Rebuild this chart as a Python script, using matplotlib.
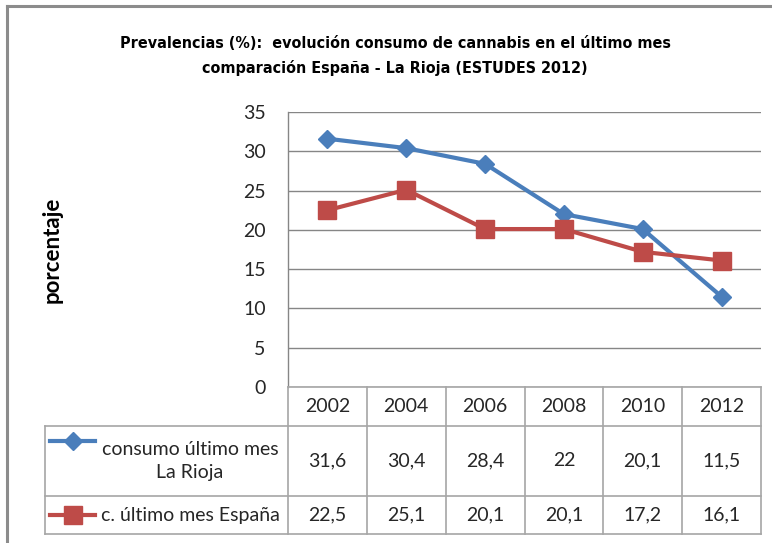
import matplotlib
matplotlib.use("Agg")
from matplotlib import pyplot as plt
from matplotlib.lines import Line2D
from matplotlib import font_manager

title = "Prevalencias (%):  evolución consumo de cannabis en el último mes\ncomparación España - La Rioja (ESTUDES 2012)"
years = ["2002", "2004", "2006", "2008", "2010", "2012"]
rioja = [31.6, 30.4, 28.4, 22.0, 20.1, 11.5]
espana = [22.5, 25.1, 20.1, 20.1, 17.2, 16.1]
rioja_label = "consumo último mes\nLa Rioja"
espana_label = "c. último mes España"
yticks = [0, 5, 10, 15, 20, 25, 30, 35]

BLUE = "#4A7EBB"
RED = "#BE4B48"
GRID = "#868686"
TABLE = "#A6A6A6"
TXT = "#262626"
BODY = ["Lato", "DejaVu Sans"]

W, H = 772, 543


def fx(px):
    return px / W


def fy(py):
    return 1 - py / H


def fmt(v):
    s = f"{v:.1f}".replace(".", ",")
    return s[:-2] if s.endswith(",0") else s


# pick a narrow bold face for the title if one is around
cond = font_manager.FontProperties(family="DejaVu Sans", stretch="condensed", weight="bold")
if "Condensed" in font_manager.findfont(cond, fallback_to_default=True):
    title_font = dict(family=["DejaVu Sans"], fontstretch="condensed")
else:
    title_font = dict(family=["Roboto", "DejaVu Sans"])

fig = plt.figure(figsize=(W / 100, H / 100), dpi=100, facecolor="white")

# outer chart border (left and top visible)
fig.add_artist(Line2D([fx(7), fx(7)], [fy(6), 0], transform=fig.transFigure, color="#8C8C8C", lw=2.2))
fig.add_artist(Line2D([fx(7), 1], [fy(6), fy(6)], transform=fig.transFigure, color="#8C8C8C", lw=2.2))

ttl = fig.text(fx(395), fy(56), title, ha="center", va="center", fontsize=14,
               fontweight="bold", color="black", linespacing=1.75, **title_font)
# shrink the title until its first line is about as wide as in the chart
renderer = fig.canvas.get_renderer()
line1 = fig.text(0, 0, title.split("\n")[0], fontsize=14, fontweight="bold", **title_font)
w = line1.get_window_extent(renderer).width
line1.remove()
ttl.set_fontsize(14 * 552 / w)

# plot area
x0, x1, ytop, ybot = 288, 761, 112, 387
ax = fig.add_axes([fx(x0), fy(ybot), fx(x1) - fx(x0), fy(ytop) - fy(ybot)])
xs = list(range(len(years)))
ax.plot(xs, rioja, color=BLUE, lw=3, marker="D", ms=9.5, zorder=3)
ax.plot(xs, espana, color=RED, lw=3, marker="s", ms=12.5, zorder=3)
ax.set_xlim(-0.5, len(years) - 0.5)
ax.set_ylim(0, 35)
ax.set_yticks(yticks)
ax.set_yticklabels([str(t) for t in yticks], family=BODY, fontsize=14, color=TXT)
ax.set_xticks([])
ax.tick_params(axis="y", length=0, pad=16)
for s in ["top", "right", "bottom"]:
    ax.spines[s].set_visible(False)
ax.spines["left"].set_color(GRID)
ax.spines["left"].set_linewidth(1)
ax.grid(axis="y", color=GRID, lw=1)
ax.set_axisbelow(True)
ax.text(fx(52), fy(250), "porcentaje", transform=fig.transFigure, rotation=90,
        ha="center", va="center", fontsize=16, fontweight="bold", family=BODY, color="black")

# data table below
tl = 45
colw = (x1 - x0) / len(years)
tax = fig.add_axes([fx(tl), fy(534), fx(x1) - fx(tl), fy(387) - fy(534)])
tax.set_xlim(-0.5 - (x0 - tl) / colw, len(years) - 0.5)
tax.set_ylim(147, 0)
tax.axis("off")
left = -0.5 - (x0 - tl) / colw
rows = [0, 39, 109, 147]
kw = dict(color=TABLE, lw=1.2, clip_on=False)
# header row lines (year columns only)
tax.plot([-0.5, len(years) - 0.5], [0, 0], **kw)
for r in rows[1:]:
    tax.plot([left, len(years) - 0.5], [r, r], **kw)
tax.plot([left, left], [rows[1], rows[3]], **kw)
for i in range(len(years) + 1):
    tax.plot([i - 0.5, i - 0.5], [0, rows[3]], **kw)

for i, yr in enumerate(years):
    tax.text(i, (rows[0] + rows[1]) / 2, yr, ha="center", va="center",
             fontsize=14, family=BODY, color=TXT)
    tax.text(i, (rows[1] + rows[2]) / 2, fmt(rioja[i]), ha="center", va="center",
             fontsize=14, family=BODY, color=TXT)
    tax.text(i, (rows[2] + rows[3]) / 2, fmt(espana[i]), ha="center", va="center",
             fontsize=14, family=BODY, color=TXT)

# legend keys in the label column
key0 = left + 5 / colw
key1 = left + 50 / colw
keym = (key0 + key1) / 2
tax.plot([key0, key1], [54, 54], color=BLUE, lw=3, clip_on=False)
tax.plot([keym], [54], color=BLUE, marker="D", ms=9.5, clip_on=False)
tax.plot([key0, key1], [128, 128], color=RED, lw=3, clip_on=False)
tax.plot([keym], [128], color=RED, marker="s", ms=12.5, clip_on=False)
lab_x = left + (190 - tl) / colw
tax.text(lab_x, (rows[1] + rows[2]) / 2, rioja_label, ha="center", va="center",
         multialignment="center", fontsize=14, family=BODY, color=TXT, linespacing=1.45)
tax.text(lab_x, (rows[2] + rows[3]) / 2, espana_label, ha="center",
         va="center", fontsize=14, family=BODY, color=TXT)

fig.savefig("out.png", dpi=100, facecolor="white")
